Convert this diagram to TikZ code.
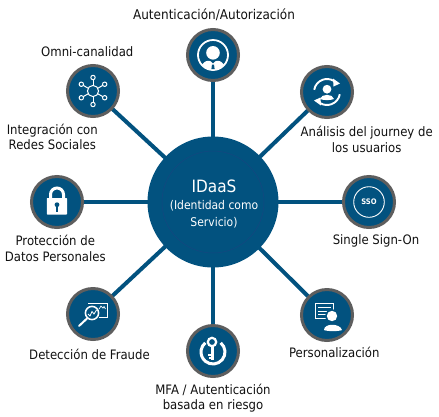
\documentclass[tikz,border=0pt]{standalone}
\usepackage{fontspec}
\setmainfont{DejaVu Sans Condensed}
\usetikzlibrary{backgrounds}
\definecolor{idblue}{HTML}{02527F}
\definecolor{idgray}{HTML}{5E5E5E}
\definecolor{idtext}{HTML}{111111}
\tikzset{
  sat/.style={circle,fill=idblue,draw=idgray,line width=3pt,minimum size=51pt,inner sep=0pt},
  hubnode/.style={circle,fill=idblue,minimum size=131pt,inner sep=0pt},
  link/.style={draw=idblue,line width=4pt},
  lab/.style={text=idtext,font=\fontsize{13}{15.5}\selectfont,align=center,inner sep=0pt}
}
\begin{document}
\begin{tikzpicture}[x=1pt,y=-1pt]
\useasboundingbox (0,0) rectangle (439,416);
\node[hubnode] (hub) at (213,202) {};
\node[circle,draw=idblue!85!violet,line width=0.5pt,minimum size=102pt,inner sep=0pt] (hubring) at (hub) {};
\node[sat] (auth) at (213,55) {};
\node[sat] (journey) at (327,92) {};
\node[sat] (sso) at (369,202) {};
\node[sat] (pers) at (327,315) {};
\node[sat] (mfa) at (213,351) {};
\node[sat] (fraud) at (93,314) {};
\node[sat] (lock) at (57,202) {};
\node[sat] (omni) at (93,91) {};
\begin{scope}[on background layer]
\foreach \s in {auth,journey,sso,pers,mfa,fraud,lock,omni}{\draw[link] (hub.center) -- (\s.center);}
\end{scope}
\node[text=white,font=\fontsize{17}{20}\selectfont,inner sep=0pt] (t0) at (214,186) {IDaaS};
\node[text=white,font=\fontsize{12}{17}\selectfont,align=center,inner sep=0pt] (t1) at (214,214.5) {(Identidad como\\Servicio)};
\node[lab,font=\fontsize{13.4}{15.5}\selectfont] (l1) at (214,14.5) {Autenticación/Autorización};
\node[lab] (l2) at (366.7,139.5) {Análisis del journey de\\los usuarios};
\node[lab] (l3) at (376,241) {Single Sign-On};
\node[lab] (l4) at (334.3,352.7) {Personalización};
\node[lab] (l5) at (213,398.3) {MFA / Autenticación\\basada en riesgo};
\node[lab] (l6) at (89.5,354) {Detección de Fraude};
\node[lab] (l7) at (55.3,248.5) {Protección de\\Datos Personales};
\node[lab] (l8) at (52.3,137) {Integración con\\Redes Sociales};
\node[lab] (l9) at (87.3,51.7) {Omni-canalidad};
\begin{scope}[shift={(auth.center)}]
\draw[draw=white,line width=1.8pt] (0,0) circle (15);
\fill[white] (0,-2.2) circle (6.8);
\fill[white] (-11,9.5) .. controls (-8,5.5) and (-4,5) .. (-2,6.5) -- (0,8.5) -- (2,6.5) .. controls (4,5) and (8,5.5) .. (11,9.5) .. controls (7,14) and (3,15) .. (0,15) .. controls (-3,15) and (-7,14) .. (-11,9.5) -- cycle;
\fill[idblue] (-1,9.5) -- (1,9.5) -- (1.6,14) -- (-1.6,14) -- cycle;
\end{scope}
\begin{scope}[shift={(journey.center)}]
\draw[white,line width=1.9pt] (190:13) arc (190:300:13);
\draw[white,line width=1.9pt] (10:13) arc (10:120:13);
\fill[white] (6,-13.5) -- (13,-8.5) -- (6.5,-5.5) -- cycle;
\fill[white] (-6,13.5) -- (-13,8.5) -- (-6.5,5.5) -- cycle;
\fill[white] (0,-2.8) circle (4.4);
\fill[white] (-7,7) .. controls (-6,1.5) and (6,1.5) .. (7,7) .. controls (3,8.5) and (-3,8.5) .. (-7,7) -- cycle;
\end{scope}
\begin{scope}[shift={(sso.center)}]
\draw[white,line width=0.9pt] (0,0) circle (15.3);
\node[text=white,font=\fontsize{7.6}{9}\selectfont\bfseries,inner sep=0pt] (ssot) at (0,0.2) {SSO};
\end{scope}
\begin{scope}[shift={(pers.center)}]
\draw[white,line width=1pt] (7,3.5) -- (-12,3.5) -- (-12,-11.5) -- (6.5,-11.5) -- (6.5,0);
\draw[white,line width=1.4pt] (-9,-7.5) -- (3.5,-7.5);
\draw[white,line width=1pt] (-9,-3.5) -- (3.5,-3.5) (-9,-0.3) -- (0,-0.3);
\fill[idblue] (5,1) circle (6.8);
\fill[white] (5,1) circle (5.2);
\fill[white] (-3,15) .. controls (-3,8) and (13,8) .. (15,15) .. controls (12,16.5) and (0,16.5) .. (-3,15) -- cycle;
\end{scope}
\begin{scope}[shift={(mfa.center)}]
\draw[white,line width=3pt] (-50:12) ++(0,1) arc (-50:230:12);
\draw[white,line width=2.2pt] (-1,-9) circle (4.2);
\draw[white,line width=3pt] (-1,-5) -- (-1,9);
\draw[white,line width=2pt] (-1,3.5) -- (-5,3.5) (-1,7) -- (-4.5,7);
\end{scope}
\begin{scope}[shift={(fraud.center)}]
\draw[white,line width=1pt] (-5,-11) -- (14,-11) -- (14,3) -- (6,3);
\draw[white,line width=0.7pt] (6,-5) -- (8,-8) -- (10,-6) -- (11,-7.5) -- (12.5,-5);
\draw[white,line width=1.5pt,fill=idblue] (-1,-1) circle (6.6);
\draw[white,line width=0.8pt] (-5,0) -- (-3,2) -- (-1,-2.5) -- (1,0) -- (3.5,-4);
\draw[white,line width=2pt,line cap=round] (-6,4.5) -- (-14,12);
\end{scope}
\begin{scope}[shift={(lock.center)}]
\draw[white,line width=3pt] (-6.5,-3) -- (-6.5,-7.5) arc (180:360:6.5) -- (6.5,-3);
\fill[white,rounded corners=0.6pt] (-10.2,-4) rectangle (10,12.5);
\fill[idblue] (0,2.7) circle (2.4);
\fill[idblue] (-1.2,3) rectangle (1.2,9.5);
\end{scope}
\begin{scope}[shift={(omni.center)}]
\draw[white,line width=1pt] (0,0) circle (5.6);
\foreach \a in {90,30,-30,-90,-150,150}{
  \draw[white,line width=1pt] (\a:5.6) -- (\a:11.3);
  \draw[white,line width=1pt] (\a:13.5) circle (2.2);
}
\end{scope}
\end{tikzpicture}
\end{document}
